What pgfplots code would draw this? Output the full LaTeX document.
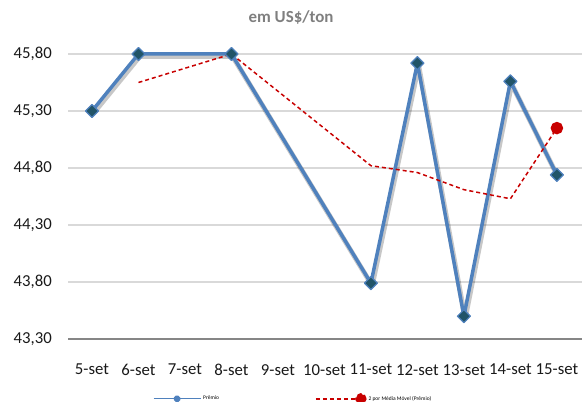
\documentclass[border=0pt]{standalone}
\usepackage{fontspec}
\setmainfont{Carlito}
\usepackage{pgfplots}
\pgfplotsset{compat=1.18}
\definecolor{exblue}{RGB}{79,129,189}
\definecolor{mkfill}{RGB}{33,84,104}
\definecolor{exred}{RGB}{200,0,0}
\definecolor{gridgray}{RGB}{217,217,217}
\definecolor{axgray}{RGB}{134,134,134}
\definecolor{subgray}{RGB}{127,127,127}
\begin{document}
\begin{tikzpicture}
\path[use as bounding box] (0,0) rectangle (582bp,402bp);
\begin{axis}[
  at={(68bp,63bp)}, anchor=south west,
  scale only axis, width=514bp, height=285bp,
  xmin=-0.516, xmax=10.54, ymin=43.30, ymax=45.80,
  clip=false,
  axis x line*=bottom, axis y line*=left,
  x axis line style={axgray, line width=1.3bp, -},
  y axis line style={draw=none},
  xtick={0,...,10},
  xticklabels={5-set,6-set,7-set,8-set,9-set,10-set,11-set,12-set,13-set,14-set,15-set},
  ytick={43.30,43.80,44.30,44.80,45.30,45.80},
  ymajorgrids, major grid style={gridgray, line width=1.3bp},
  major tick length=0pt,
  tick label style={font=\fontsize{16.8}{18}\selectfont, text=black!90},
  yticklabel style={inner sep=0pt, anchor=east, xshift=-16bp},
  xticklabel style={inner sep=0pt, anchor=north, yshift=-25bp},
  /pgf/number format/.cd, fixed, fixed zerofill, precision=2, use comma, 1000 sep={}, assume math mode=true,
  /pgfplots/.cd,
  title={\bfseries em US\$/ton},
  title style={at={(axis description cs:0.434,1.107)}, anchor=center, inner sep=0pt, font=\fontsize{17}{19}\selectfont, text=subgray},
  legend style={at={(axis description cs:0.165,-0.21)}, anchor=west, draw=none, fill=none, inner sep=0pt,
    font=\fontsize{5.5}{6}\selectfont, legend columns=2,
    /tikz/every even column/.append style={column sep=94bp}},
]
% shadow
\addplot[forget plot, black, opacity=0.22, line width=5bp, line join=round, shift={(1.2bp,-2.5bp)}]
  coordinates {(0,45.30) (1,45.80) (3,45.80) (6,43.79) (7,45.72) (8,43.50) (9,45.56) (10,44.74)};
\addplot[exblue, line width=3.5bp, line join=round,
  mark=square*, mark size=4.6bp, mark options={rotate=45, fill=mkfill, draw=exblue, line width=1.2bp, solid},
  legend image code/.code={
    \draw[exblue, line width=1.2bp] (0bp,0bp) -- (47bp,0bp);
    \fill[exblue] (21.5bp,0bp) -- (23.5bp,2bp) -- (25.5bp,0bp) -- (23.5bp,-2bp) -- cycle;
  }]
  coordinates {(0,45.30) (1,45.80) (3,45.80) (6,43.79) (7,45.72) (8,43.50) (9,45.56) (10,44.74)};
\addlegendentry{Prêmio}
\addplot[exred, line width=1.5bp, dash pattern=on 4bp off 3bp,
  mark=*, mark size=5.5bp, mark indices={7}, mark options={solid, fill=exred, draw=exred},
  legend image code/.code={
    \draw[exred, line width=1.5bp, dash pattern=on 4bp off 3bp] (0bp,0bp) -- (45bp,0bp);
    \fill[exred] (45bp,0bp) circle (5bp);
  }]
  coordinates {(1,45.55) (3,45.80) (6,44.82) (7,44.76) (8,44.61) (9,44.53) (10,45.15)};
\addlegendentry{2 por Média Móvel  (Prêmio)}
\end{axis}
\end{tikzpicture}
\end{document}
